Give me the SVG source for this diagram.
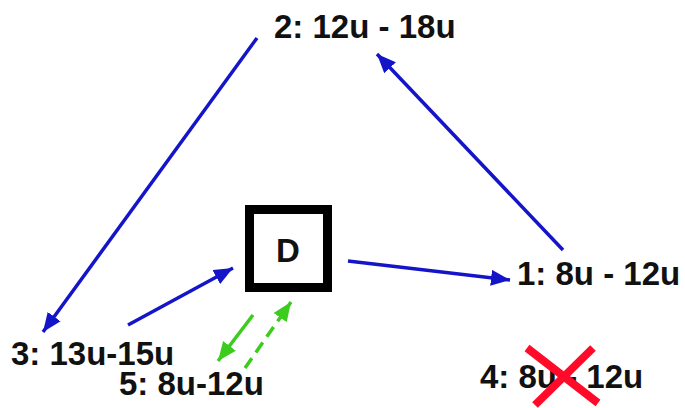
<svg xmlns="http://www.w3.org/2000/svg" width="685" height="408" viewBox="0 0 685 408">
<style>
.lbl{font-family:"Liberation Sans",Arial,sans-serif;font-weight:bold;font-size:33px;fill:#111}
.blue{stroke:#1414c8;stroke-width:3.5;fill:none}
.green{stroke:#3ccc1e;stroke-width:3.5;fill:none}
.cross{stroke:#ff0a28;stroke-width:8;fill:none}
</style>
<defs>
<marker id="ab" markerUnits="userSpaceOnUse" markerWidth="20" markerHeight="16" refX="19" refY="8" orient="auto">
<path d="M0,0 L19,8 L0,16 z" fill="#1414c8"/>
</marker>
<marker id="ag" markerUnits="userSpaceOnUse" markerWidth="20" markerHeight="16" refX="19" refY="8" orient="auto">
<path d="M0,0 L19,8 L0,16 z" fill="#3ccc1e"/>
</marker>
</defs>
<rect width="685" height="408" fill="#fff"/>
<g id="connectors">
<line class="blue" x1="257" y1="38" x2="43" y2="332" marker-end="url(#ab)"/>
<line class="blue" x1="128" y1="325" x2="233" y2="268" marker-end="url(#ab)"/>
<line class="blue" x1="348" y1="261" x2="510" y2="280" marker-end="url(#ab)"/>
<line class="blue" x1="563" y1="250" x2="377" y2="54" marker-end="url(#ab)"/>
<line class="green" x1="253" y1="315" x2="218" y2="361" marker-end="url(#ag)"/>
<line class="green" x1="245" y1="368" x2="291" y2="302" stroke-dasharray="12,7" marker-end="url(#ag)"/>
</g>
<g id="nodeD">
<rect x="249.5" y="209.5" width="78" height="78" fill="#fff" stroke="#000" stroke-width="9"/>
<text class="lbl" x="288" y="262" text-anchor="middle">D</text>
</g>
<g id="node2"><text class="lbl" x="274" y="38">2: 12u - 18u</text></g>
<g id="node1"><text class="lbl" x="517" y="285">1: 8u - 12u</text></g>
<g id="node3"><text class="lbl" x="11" y="365">3: 13u-15u</text></g>
<g id="node5"><text class="lbl" x="119" y="395">5: 8u-12u</text></g>
<g id="node4">
<text class="lbl" x="480" y="388">4: 8u - 12u</text>
<line class="cross" x1="527" y1="348" x2="598" y2="403"/>
<line class="cross" x1="593" y1="348" x2="535" y2="405"/>
</g>
</svg>
